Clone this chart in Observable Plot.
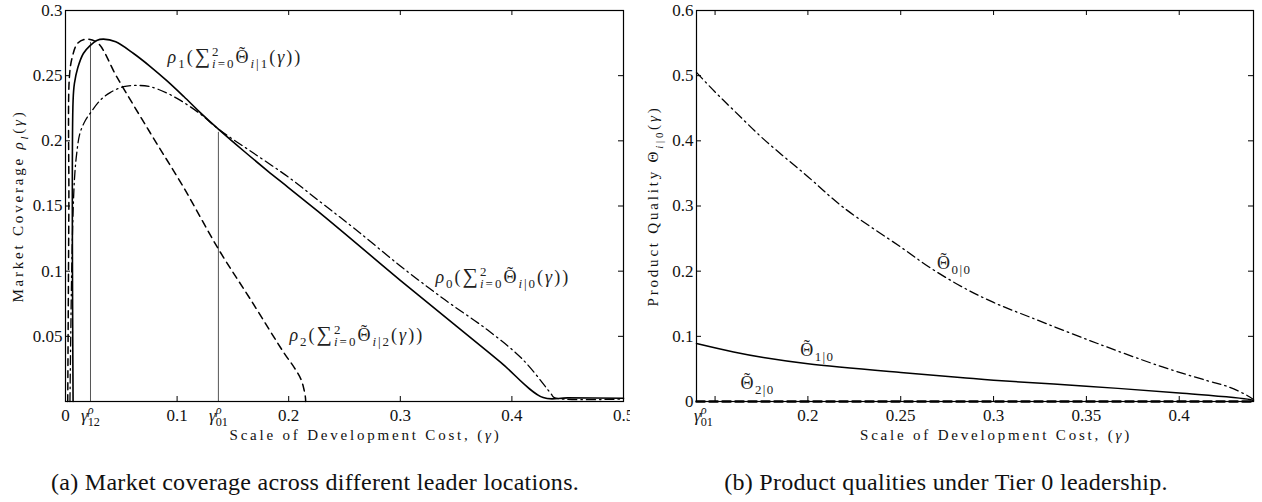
<!DOCTYPE html>
<html><head><meta charset="utf-8">
<script src="https://cdn.jsdelivr.net/npm/d3@7"></script>
<script src="https://cdn.jsdelivr.net/npm/@observablehq/plot@0.6"></script>
<style>
body{margin:0;background:#fff;width:1262px;height:502px;position:relative;overflow:hidden;font-family:"Liberation Serif",serif;}
#a{position:absolute;left:0;top:0}
#b{position:absolute;left:630px;top:0}
.cap{position:absolute;top:469px;font-size:24px;line-height:26px;letter-spacing:0.3px;white-space:nowrap;color:#111;text-align:center;}
</style></head><body>
<div id="a"></div><div id="b"></div>
<div class="cap" style="left:0;width:630px">(a) Market coverage across different leader locations.</div>
<div class="cap" style="left:630px;width:632px">(b) Product qualities under Tier 0 leadership.</div>
<script>
// ---------- Panel (a): market coverage ----------
const rho1Gamma = [0.0068, 0.0068, 0.008, 0.011, 0.016, 0.022, 0.028, 0.034, 0.045, 0.061, 0.076, 0.091, 0.106, 0.121, 0.137, 0.16, 0.181, 0.2, 0.226, 0.25, 0.3, 0.35, 0.39, 0.428, 0.45, 0.5];
const rho1Value = [0, 0.231, 0.244, 0.256, 0.267, 0.273, 0.277, 0.278, 0.276, 0.267, 0.257, 0.246, 0.234, 0.2215, 0.209, 0.192, 0.177, 0.164, 0.146, 0.129, 0.093, 0.058, 0.030, 0.003, 0.0028, 0.0025];

const rho0Gamma = [0.004, 0.006, 0.008, 0.01, 0.013, 0.018, 0.022, 0.031, 0.04, 0.052, 0.065, 0.076, 0.09, 0.103, 0.121, 0.137, 0.166, 0.2, 0.23, 0.26, 0.3, 0.34, 0.378, 0.41, 0.435, 0.438, 0.5];
const rho0Value = [0, 0.12, 0.17, 0.19, 0.206, 0.216, 0.221, 0.231, 0.237, 0.2415, 0.2425, 0.2415, 0.237, 0.231, 0.2205, 0.209, 0.192, 0.172, 0.152, 0.132, 0.104, 0.078, 0.055, 0.032, 0.006, 0.003, 0.002];

const rho2Gamma = [0.002, 0.003, 0.0035, 0.006, 0.011, 0.019, 0.029, 0.046, 0.076, 0.106, 0.137, 0.166, 0.196, 0.205, 0.211, 0.2135, 0.215, 0.2152];
const rho2Value = [0, 0.15, 0.249, 0.264, 0.275, 0.278, 0.275, 0.249, 0.206, 0.164, 0.117, 0.078, 0.037, 0.026, 0.017, 0.010, 0.003, 0];

const thresholdGamma = [0.0224, 0.137];
const thresholdTop = [0.2755, 0.2065];

const aXTickMarks = [0.1, 0.2, 0.3, 0.4];
const aXLabelValues = [0, 0.0224, 0.1, 0.137, 0.2, 0.3, 0.4, 0.5];
const aXLabels = ["0", "γ^ρ_{12}", "0.1", "γ^ρ_{01}", "0.2", "0.3", "0.4", "0.5"];
const aYTickValues = [0.05, 0.1, 0.15, 0.2, 0.25, 0.3];
const aYTickLabels = ["0.05", "0.1", "0.15", "0.2", "0.25", "0.3"];

// ---------- Panel (b): product qualities ----------
const theta00Gamma = [0.14, 0.15, 0.16, 0.176, 0.2, 0.219, 0.25, 0.266, 0.283, 0.3, 0.32, 0.356, 0.391, 0.415, 0.427, 0.438, 0.44];
const theta00Value = [0.505, 0.475, 0.447, 0.403, 0.345, 0.298, 0.237, 0.205, 0.176, 0.152, 0.129, 0.089, 0.053, 0.032, 0.022, 0.007, 0.003];

const theta10Gamma = [0.14, 0.16, 0.176, 0.2, 0.25, 0.282, 0.3, 0.35, 0.4, 0.438, 0.44];
const theta10Value = [0.089, 0.076, 0.0675, 0.058, 0.0445, 0.037, 0.0325, 0.0235, 0.013, 0.003, 0.001];

const theta20Gamma = [0.14, 0.44];
const theta20Value = [0, 0];

const bXTickMarks = [0.15, 0.2, 0.25, 0.3, 0.35, 0.4];
const bXLabelValues = [0.14, 0.2, 0.25, 0.3, 0.35, 0.4];
const bXLabels = ["γ^ρ_{01}", "0.2", "0.25", "0.3", "0.35", "0.4"];
const bYTickValues = [0, 0.1, 0.2, 0.3, 0.4, 0.5, 0.6];
const bYTickLabels = ["0", "0.1", "0.2", "0.3", "0.4", "0.5", "0.6"];

const xTitle = "Scale of Development Cost, (γ)";
const aYTitle = "Market Coverage ρ_l(γ)";
const bYTitle = "Product Quality Θ_{i|0}(γ)";
const seriesLabels = ["ρ_1(∑^2_{i=0}Θ̃_{i|1}(γ))", "ρ_0(∑^2_{i=0}Θ̃_{i|0}(γ))", "ρ_2(∑^2_{i=0}Θ̃_{i|2}(γ))"];
const qualityLabels = ["Θ̃_{0|0}", "Θ̃_{1|0}", "Θ̃_{2|0}"];

// ---------- helpers ----------
const NS = "http://www.w3.org/2000/svg";
const rows = (xs, ys) => xs.map((x, i) => ({x, y: ys[i]}));
const FS = 17;
const AFS = 18;
const INNER_H = 391;

function tickMarks(xMarks, yMarks, innerW) {
  return [
    Plot.tickX(xMarks, {x: d => d, insetTop: INNER_H - 5, stroke: "black", strokeWidth: 1}),
    Plot.tickX(xMarks, {x: d => d, insetBottom: INNER_H - 5, stroke: "black", strokeWidth: 1}),
    Plot.tickY(yMarks, {y: d => d, insetRight: innerW - 5, stroke: "black", strokeWidth: 1}),
    Plot.tickY(yMarks, {y: d => d, insetLeft: innerW - 5, stroke: "black", strokeWidth: 1})
  ];
}
function tickLabels(xVals, xLabs, yVals, yLabs) {
  return [
    Plot.text(xVals, {x: d => d, text: (d, i) => xLabs[i], frameAnchor: "bottom", lineAnchor: "middle", dy: 14, fontSize: FS, fill: "#111"}),
    Plot.text(yVals, {y: d => d, text: (d, i) => yLabs[i], frameAnchor: "left", textAnchor: "end", lineAnchor: "middle", dx: -3, fontSize: FS, fill: "#111"})
  ];
}

function parseMath(s) {
  const out = []; let i = 0, buf = "";
  while (i < s.length) {
    const c = s[i];
    if (c === "_" || c === "^") {
      if (buf) { out.push({t: buf, m: "n"}); buf = ""; }
      let arg;
      if (s[i + 1] === "{") { const j = s.indexOf("}", i + 2); arg = s.slice(i + 2, j); i = j + 1; }
      else { arg = s[i + 1]; i += 2; }
      out.push({t: arg, m: c === "_" ? "sub" : "sup"});
    } else { buf += c; i++; }
  }
  if (buf) out.push({t: buf, m: "n"});
  return out;
}
function mathify(svg) {
  d3.select(svg).selectAll("text").each(function () {
    const el = this, s = el.textContent;
    if (!/[_^γρΘ∑]/.test(s)) return;
    const fs = parseFloat(getComputedStyle(el).fontSize) || FS;
    const parts = parseMath(s);
    while (el.firstChild) el.removeChild(el.firstChild);
    let shift = 0, pendDx = 0, supW = null;
    const add = (txt, size, target, attrs) => {
      const ts = document.createElementNS(NS, "tspan");
      ts.textContent = txt;
      const dy = target - shift;
      if (Math.abs(dy) > 1e-6) ts.setAttribute("dy", dy);
      shift = target;
      if (pendDx) { ts.setAttribute("dx", pendDx); pendDx = 0; }
      if (size !== fs) ts.setAttribute("font-size", size);
      if (attrs) for (const k in attrs) ts.setAttribute(k, attrs[k]);
      el.appendChild(ts);
      return ts;
    };
    parts.forEach((p, k) => {
      const size = p.m === "n" ? fs : fs * 0.72;
      const target = p.m === "sub" ? 0.28 * fs : p.m === "sup" ? -0.42 * fs : 0;
      const stackSub = p.m === "sub" && k > 0 && parts[k - 1].m === "sup" && supW != null;
      if (stackSub) pendDx += -supW;
      const re = p.m === "n" ? /(Θ̃|[γρ∑])/ : /(Θ̃|[γρ∑a-z])/;
      const runs = p.t.split(re).filter(r => r);
      let w = 0;
      runs.forEach(r => {
        if (r === "Θ̃") {
          const th = add("Θ", size, target);
          const wth = th.getComputedTextLength();
          const ti = add("˜", size, target - 0.2 * size);
          const wti = ti.getComputedTextLength();
          ti.setAttribute("dx", -(wth + wti) / 2);
          pendDx += (wth - wti) / 2;
          w += wth;
        } else {
          let attrs = null, sz = size;
          if (r === "∑") sz = size * 1.2;
          if (r === "γ" || r === "ρ" || /^[a-z]$/.test(r) && p.m !== "n") attrs = {"font-style": "italic"};
          const ts = add(r, sz, target, attrs);
          w += ts.getComputedTextLength();
        }
      });
      if (stackSub) { pendDx += Math.max(0, supW - w); supW = null; }
      else if (p.m === "sup") supW = w;
      else supW = null;
    });
  });
}
function spacingFor(svg, strings, px) {
  d3.select(svg).selectAll("text").each(function () {
    if (strings.includes(this.textContent)) this.setAttribute("letter-spacing", px);
  });
}

// ---------- Panel (a) ----------
const svgA = Plot.plot({
  width: 630, height: 455,
  marginLeft: 65, marginRight: 7, marginTop: 10, marginBottom: 54,
  style: {fontFamily: "Liberation Serif, DejaVu Serif, serif", background: "white", overflow: "visible"},
  x: {domain: [0, 0.5], axis: null},
  y: {domain: [0, 0.3], axis: null},
  marks: [
    Plot.ruleX(rows(thresholdGamma, thresholdTop), {x: "x", y1: 0, y2: "y", stroke: "#555", strokeWidth: 1}),
    Plot.line(rows(rho2Gamma, rho2Value), {x: "x", y: "y", stroke: "black", strokeWidth: 1.5, strokeDasharray: "7,5", curve: "catmull-rom"}),
    Plot.line(rows(rho0Gamma, rho0Value), {x: "x", y: "y", stroke: "black", strokeWidth: 1.3, strokeDasharray: "9,4,1.5,4", curve: "catmull-rom"}),
    Plot.line(rows(rho1Gamma, rho1Value), {x: "x", y: "y", stroke: "black", strokeWidth: 1.6, curve: "catmull-rom"}),
    Plot.frame({stroke: "black", strokeWidth: 1.2}),
    ...tickMarks(aXTickMarks, aYTickValues.slice(0, 5), 558),
    ...tickLabels(aXLabelValues, aXLabels, aYTickValues, aYTickLabels),
    Plot.text([seriesLabels[0]], {x: 0.0914, y: 0.264, text: d => d, textAnchor: "start", fontSize: AFS, fill: "#222"}),
    Plot.text([seriesLabels[1]], {x: 0.3315, y: 0.095, text: d => d, textAnchor: "start", fontSize: AFS, fill: "#222"}),
    Plot.text([seriesLabels[2]], {x: 0.2007, y: 0.0506, text: d => d, textAnchor: "start", fontSize: AFS, fill: "#222"}),
    Plot.text([xTitle], {text: d => d, frameAnchor: "bottom", lineAnchor: "middle", textAnchor: "middle", dy: 34, dx: 21, fontSize: 15, fill: "#111"}),
    Plot.text([aYTitle], {text: d => d, frameAnchor: "left", textAnchor: "middle", lineAnchor: "middle", dx: -47, rotate: -90, fontSize: 15, fill: "#111"})
  ]
});
document.getElementById("a").appendChild(svgA);

// ---------- Panel (b) ----------
const svgB = Plot.plot({
  width: 632, height: 455,
  marginLeft: 66, marginRight: 9, marginTop: 10, marginBottom: 54,
  style: {fontFamily: "Liberation Serif, DejaVu Serif, serif", background: "white", overflow: "visible"},
  x: {domain: [0.14, 0.44], axis: null},
  y: {domain: [0, 0.6], axis: null},
  marks: [
    Plot.line(rows(theta00Gamma, theta00Value), {x: "x", y: "y", stroke: "black", strokeWidth: 1.3, strokeDasharray: "9,4,1.5,4", curve: "catmull-rom"}),
    Plot.line(rows(theta10Gamma, theta10Value), {x: "x", y: "y", stroke: "black", strokeWidth: 1.5, curve: "catmull-rom"}),
    Plot.frame({stroke: "black", strokeWidth: 1.2}),
    Plot.line(rows(theta20Gamma, theta20Value), {x: "x", y: "y", stroke: "black", strokeWidth: 2.6, strokeDasharray: "8,5"}),
    ...tickMarks(bXTickMarks, bYTickValues.slice(1, 6), 557),
    ...tickLabels(bXLabelValues.slice(1), bXLabels.slice(1), bYTickValues, bYTickLabels),
    Plot.text([bXLabels[0]], {x: bXLabelValues[0], text: d => d, frameAnchor: "bottom", lineAnchor: "middle", dy: 14, dx: 7, fontSize: FS, fill: "#111"}),
    Plot.text([qualityLabels[0]], {x: 0.2696, y: 0.212, text: d => d, textAnchor: "start", fontSize: AFS, fill: "#222"}),
    Plot.text([qualityLabels[1]], {x: 0.1959, y: 0.0783, text: d => d, textAnchor: "start", fontSize: AFS, fill: "#222"}),
    Plot.text([qualityLabels[2]], {x: 0.1637, y: 0.0276, text: d => d, textAnchor: "start", fontSize: AFS, fill: "#222"}),
    Plot.text([xTitle], {text: d => d, frameAnchor: "bottom", lineAnchor: "middle", textAnchor: "middle", dy: 34, dx: 21, fontSize: 15, fill: "#111"}),
    Plot.text([bYTitle], {text: d => d, frameAnchor: "left", textAnchor: "middle", lineAnchor: "middle", dx: -43, rotate: -90, fontSize: 15, fill: "#111"})
  ]
});
document.getElementById("b").appendChild(svgB);

for (const svg of [svgA, svgB]) {
  spacingFor(svg, [xTitle, aYTitle, bYTitle], 2.8);
  spacingFor(svg, seriesLabels, 2);
  spacingFor(svg, qualityLabels, 1.4);
  mathify(svg);
}
</script></body></html>
